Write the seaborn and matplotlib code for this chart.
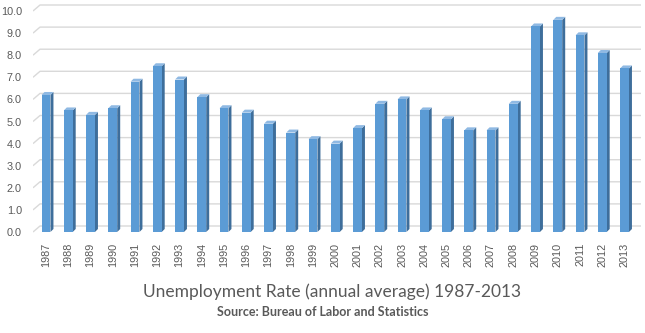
import numpy as np
import pandas as pd
import matplotlib
matplotlib.use("Agg")
import matplotlib.pyplot as plt
from matplotlib.patches import Polygon
import seaborn as sns

years = [str(y) for y in range(1987, 2014)]
rates = [6.2, 5.5, 5.3, 5.6, 6.8, 7.5, 6.9, 6.1, 5.6, 5.4, 4.9, 4.5, 4.2, 4.0,
         4.7, 5.8, 6.0, 5.5, 5.1, 4.6, 4.6, 5.8, 9.3, 9.6, 8.9, 8.1, 7.4]
y_ticks = [0, 1, 2, 3, 4, 5, 6, 7, 8, 9, 10]
title = "Unemployment Rate (annual average) 1987-2013"
subtitle = "Source: Bureau of Labor and Statistics"

FRONT = "#5B9BD5"
SIDE = "#3E6E9B"
TOP = "#8FB9E3"
GRID = "#D9D9D9"
TEXT = "#595959"

sns.set_theme(style="white")
plt.rcParams["font.family"] = ["Liberation Sans", "DejaVu Sans"]

df = pd.DataFrame({"year": years, "rate": rates})

W, H = 645, 333
fig = plt.figure(figsize=(W / 100, H / 100), dpi=100)
# axes box in pixels: left 33, right 641, top 2, bottom 240
ax = fig.add_axes([33 / W, 1 - 240 / H, (641 - 33) / W, 238 / H])

px_x = 22.25   # pixels per category
px_y = 22.1    # pixels per unit
x0 = -(46 - 33) / px_x
x1 = x0 + (641 - 33) / px_x
y0 = -(240 - 232) / px_y
y1 = y0 + 238 / px_y

# back-wall gridlines with a short perspective stub at the left
gdx = 7 / px_x
gdy = 6 / px_y
for t in y_ticks:
    ax.plot([x0, x0 + gdx, x1], [t, t + gdy, t + gdy], color=GRID,
            lw=1.0, zorder=0, solid_capstyle="butt")

sns.barplot(data=df, x="year", y="rate", color=FRONT, saturation=1,
            width=0.4, ax=ax, zorder=3, linewidth=0)
ax.set_xlim(x0, x1)
ax.set_ylim(y0, y1)

# depth faces on each bar
ddx = 3 / px_x
ddy = 3 / px_y
for bar in list(ax.patches):
    bx, by = bar.get_x(), bar.get_y()
    bw, bh = bar.get_width(), bar.get_height()
    right = bx + bw
    top = by + bh
    side = Polygon([[right, by], [right + ddx, by + ddy],
                    [right + ddx, top + ddy], [right, top]],
                   closed=True, facecolor=SIDE, edgecolor="none", zorder=2.9)
    cap = Polygon([[bx, top], [bx + ddx, top + ddy],
                   [right + ddx, top + ddy], [right, top]],
                  closed=True, facecolor=TOP, edgecolor="none", zorder=2.9)
    ax.add_patch(side)
    ax.add_patch(cap)

ax.set_yticks(y_ticks)
ax.set_yticklabels([f"{t:.1f}" for t in y_ticks], fontsize=7.8, color=TEXT)
ax.tick_params(axis="y", length=0, pad=8)
ax.set_xticks(range(len(years)))
ax.set_xticklabels(years, rotation=90, fontsize=7.8, color=TEXT)
ax.tick_params(axis="x", length=0, pad=2)
ax.set_xlabel("")
ax.set_ylabel("")
for s in ax.spines.values():
    s.set_visible(False)

fig.text(0.5 * (147 + 518) / W, 1 - 292 / H, title, ha="center", va="center",
         fontsize=12.5, color=TEXT, family=["Lato", "DejaVu Sans"])
fig.text(0.5 * (209 + 437) / W, 1 - 312 / H, subtitle, ha="center", va="center",
         fontsize=9, color=TEXT, fontweight="bold", family=["Lato", "DejaVu Sans"])

fig.savefig("out.png", dpi=100, facecolor="white")
